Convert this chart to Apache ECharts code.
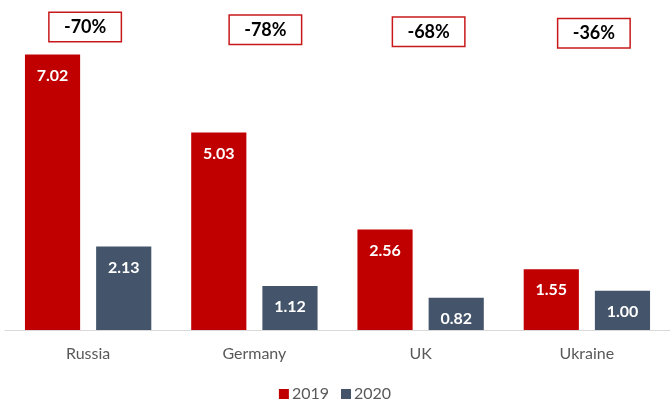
<!DOCTYPE html>
<html>
<head>
<meta charset="utf-8">
<script src="https://cdn.jsdelivr.net/npm/echarts@6/dist/echarts.min.js"></script>
<style>html,body{margin:0;padding:0;background:#fff;}#c{width:670px;height:400px;}</style>
</head>
<body>
<div id="c"></div>
<script>
var categories = ['Russia', 'Germany', 'UK', 'Ukraine'];
var values2019 = [7.02, 5.03, 2.56, 1.55];
var values2020 = [2.13, 1.12, 0.82, 1.00];
var changeLabels = ['-70%', '-78%', '-68%', '-36%'];
var seriesNames = ['2019', '2020'];

var FONT = 'Lato, "Open Sans", sans-serif';
var boxLevel = [7.72, 7.65, 7.6, 7.56];
var boxOffsetX = [-3, 11, 8, 7];

var chart = echarts.init(document.getElementById('c'), null, {renderer: 'canvas'});
chart.setOption({
  animation: false,
  textStyle: {fontFamily: FONT},
  grid: {left: 5, width: 672, top: 16, height: 314, containLabel: false},
  legend: {
    data: seriesNames,
    top: 381,
    left: 'center',
    itemWidth: 10,
    itemHeight: 10,
    itemGap: 12,
    icon: 'rect',
    textStyle: {fontSize: 16, color: '#595959', fontFamily: FONT, padding: [0, 0, 0, -2]}
  },
  xAxis: {
    type: 'category',
    data: categories,
    axisLine: {lineStyle: {color: '#D9D9D9', width: 1.2}},
    axisTick: {show: false},
    axisLabel: {fontSize: 16, color: '#595959', margin: 16, fontFamily: FONT}
  },
  yAxis: {
    type: 'value',
    min: 0,
    max: 8,
    show: false,
    splitLine: {show: false}
  },
  series: [
    {
      name: seriesNames[0],
      type: 'bar',
      data: values2019,
      barCategoryGap: '24%',
      barGap: '29%',
      itemStyle: {color: '#C00000'},
      label: {
        show: true, position: 'insideTop', distance: 13,
        color: '#fff', fontWeight: 'bold', fontSize: 16, fontFamily: FONT,
        formatter: function (p) { return p.value.toFixed(2); }
      }
    },
    {
      name: seriesNames[1],
      type: 'bar',
      data: values2020,
      itemStyle: {color: '#44546A'},
      label: {
        show: true, position: 'insideTop', distance: 13,
        color: '#fff', fontWeight: 'bold', fontSize: 16, fontFamily: FONT,
        formatter: function (p) { return p.value.toFixed(2); }
      }
    },
    {
      name: 'change',
      type: 'scatter',
      symbolSize: 1,
      silent: true,
      z: 5,
      itemStyle: {opacity: 0},
      data: categories.map(function (c, i) {
        return {
          value: [c, boxLevel[i]],
          label: {offset: [boxOffsetX[i], 0]}
        };
      }),
      label: {
        show: true,
        position: 'inside',
        opacity: 1,
        formatter: function (p) { return changeLabels[p.dataIndex]; },
        fontSize: 18,
        fontWeight: 'bold',
        color: '#000',
        fontFamily: FONT,
        backgroundColor: '#fff',
        borderColor: '#C8191A',
        borderWidth: 1.5,
        width: 71,
        lineHeight: 20,
        padding: [6, 0, 2, 0],
        align: 'center'
      }
    }
  ]
});
</script>
</body>
</html>
